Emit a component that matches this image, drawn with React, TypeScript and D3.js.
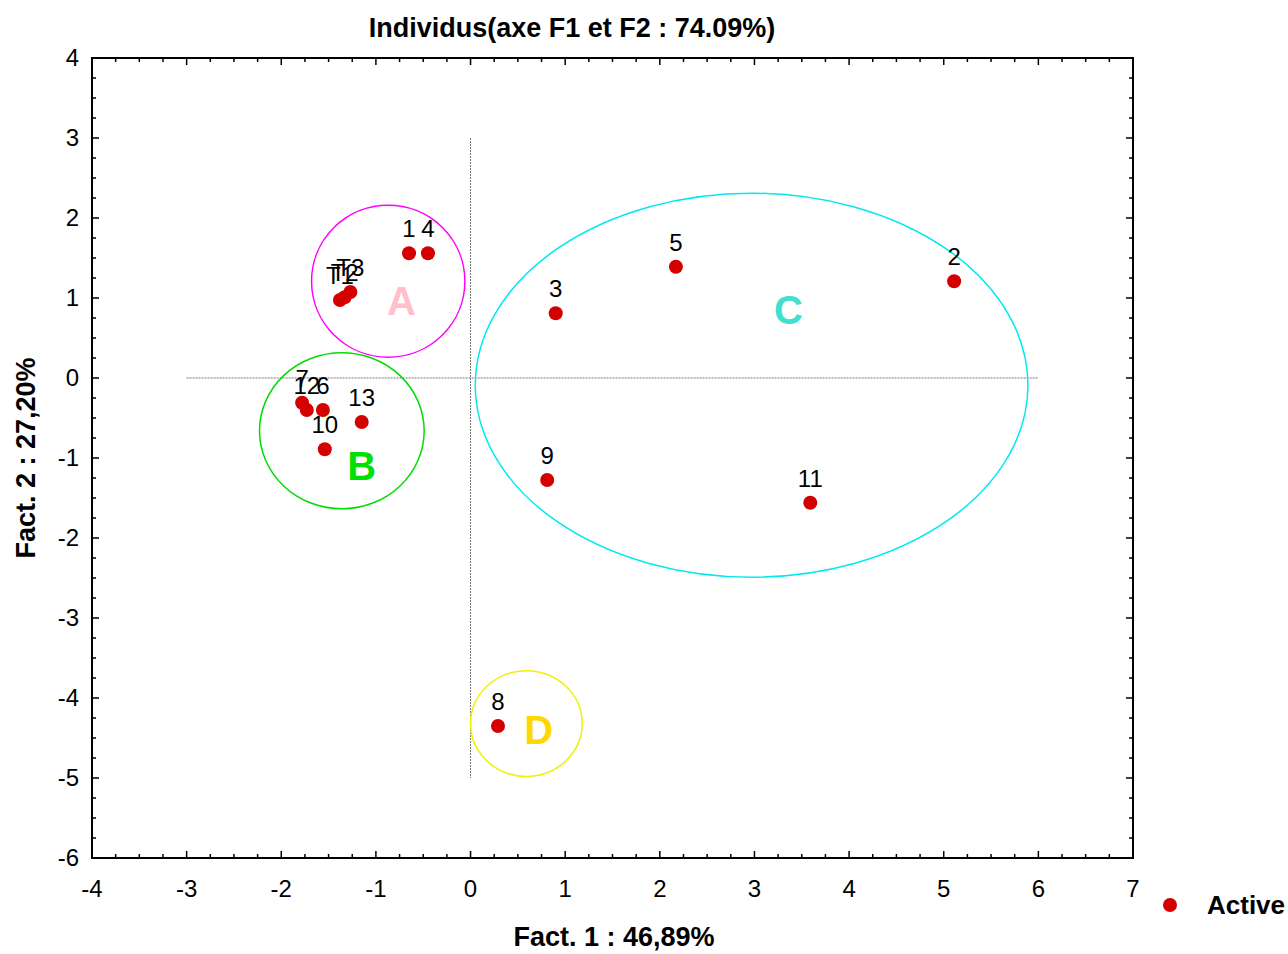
import React from 'react';
import { scaleLinear, range } from 'd3';

const labels = ['1', '4', 'T1', 'T2', 'T3', '7', '12', '6', '10', '13', '3', '5', '2', '9', '11', '8'];
const f1 = [-0.65, -0.45, -1.38, -1.33, -1.27, -1.78, -1.73, -1.56, -1.54, -1.15, 0.9, 2.17, 5.11, 0.81, 3.59, 0.29];
const f2 = [1.56, 1.56, 0.975, 1.01, 1.075, -0.31, -0.4, -0.4, -0.89, -0.55, 0.81, 1.39, 1.21, -1.275, -1.56, -4.35];

const groupNames = ['A', 'B', 'C', 'D'];
const groupCx = [-0.87, -1.36, 2.97, 0.59];
const groupCy = [1.21, -0.66, -0.09, -4.32];
const groupRx = [0.81, 0.87, 2.92, 0.59];
const groupRy = [0.95, 0.975, 2.4, 0.66];
const groupStroke = ['#ff00ff', '#00dd00', '#00e8f0', '#f0f000'];
const groupText = ['#ffc0cb', '#00e000', '#40e0d0', '#ffd700'];
const groupLabelX = [-0.73, -1.15, 3.36, 0.72];
const groupLabelY = [0.79, -1.28, 0.67, -4.58];

const xTicks = range(-4, 8);
const yTicks = range(-6, 5);

export default function App() {
  const left = 92, right = 1133, top = 58, bottom = 858;
  const x = scaleLinear().domain([-4, 7]).range([left, right]);
  const y = scaleLinear().domain([-6, 4]).range([bottom, top]);
  const font = 'Arial, "Liberation Sans", sans-serif';

  const xMinor = range(-4, 7.001, 0.25);
  const yMinor = range(-6, 4.001, 0.25);
  const isMajor = (v: number) => Math.abs(v - Math.round(v)) < 1e-6;

  return (
    <svg width={1288} height={954} style={{ display: 'block', position: 'absolute', left: 0, top: 0 }} fontFamily={font}>
      <rect width={1288} height={954} fill="#fff" />
      <text x={572} y={37} textAnchor="middle" fontSize={27} fontWeight="bold">
        Individus(axe F1 et F2 : 74.09%)
      </text>

      {/* reference axes through the origin */}
      <line x1={x(-3)} x2={x(6)} y1={y(0)} y2={y(0)} stroke="#777" strokeWidth={1} strokeDasharray="2,1" />
      <line x1={x(0)} x2={x(0)} y1={y(3)} y2={y(-5)} stroke="#777" strokeWidth={1} strokeDasharray="2,1" />

      {/* frame */}
      <rect x={left} y={top} width={right - left} height={bottom - top} fill="none" stroke="#000" strokeWidth={2} />
      {xMinor.map((v, i) => {
        const len = isMajor(v) ? 7 : 4;
        return (
          <g key={'xm' + i}>
            <line x1={x(v)} x2={x(v)} y1={bottom} y2={bottom - len} stroke="#000" strokeWidth={1.5} />
            <line x1={x(v)} x2={x(v)} y1={top} y2={top + len} stroke="#000" strokeWidth={1.5} />
          </g>
        );
      })}
      {yMinor.map((v, i) => {
        const len = isMajor(v) ? 7 : 4;
        return (
          <g key={'ym' + i}>
            <line x1={left} x2={left + len} y1={y(v)} y2={y(v)} stroke="#000" strokeWidth={1.5} />
            <line x1={right} x2={right - len} y1={y(v)} y2={y(v)} stroke="#000" strokeWidth={1.5} />
          </g>
        );
      })}
      {xTicks.map((t) => (
        <text key={'xt' + t} x={x(t)} y={897} textAnchor="middle" fontSize={24}>
          {t}
        </text>
      ))}
      {yTicks.map((t) => (
        <text key={'yt' + t} x={79} y={y(t) + 8} textAnchor="end" fontSize={24}>
          {t}
        </text>
      ))}

      <text x={614} y={946} textAnchor="middle" fontSize={27} fontWeight="bold">
        Fact. 1 : 46,89%
      </text>
      <text transform={`translate(35, 458) rotate(-90)`} textAnchor="middle" fontSize={27} fontWeight="bold">
        Fact. 2 : 27,20%
      </text>

      {/* group ellipses */}
      {groupNames.map((g, i) => (
        <g key={g}>
          <ellipse
            cx={x(groupCx[i])}
            cy={y(groupCy[i])}
            rx={x(groupRx[i]) - x(0)}
            ry={y(0) - y(groupRy[i])}
            fill="none"
            stroke={groupStroke[i]}
            strokeWidth={1.5}
          />
          <text x={x(groupLabelX[i])} y={y(groupLabelY[i])} textAnchor="middle" fontSize={40} fontWeight="bold" fill={groupText[i]}>
            {g}
          </text>
        </g>
      ))}

      {/* individuals */}
      {labels.map((l, i) => (
        <g key={'p' + i}>
          <circle cx={x(f1[i])} cy={y(f2[i])} r={7} fill="#d40000" />
          <text x={x(f1[i])} y={y(f2[i]) - 16} textAnchor="middle" fontSize={24} fill="#000">
            {l}
          </text>
        </g>
      ))}

      {/* legend */}
      <circle cx={1170} cy={905} r={7} fill="#d40000" />
      <text x={1207} y={914} fontSize={26} fontWeight="bold">
        Active
      </text>
    </svg>
  );
}
